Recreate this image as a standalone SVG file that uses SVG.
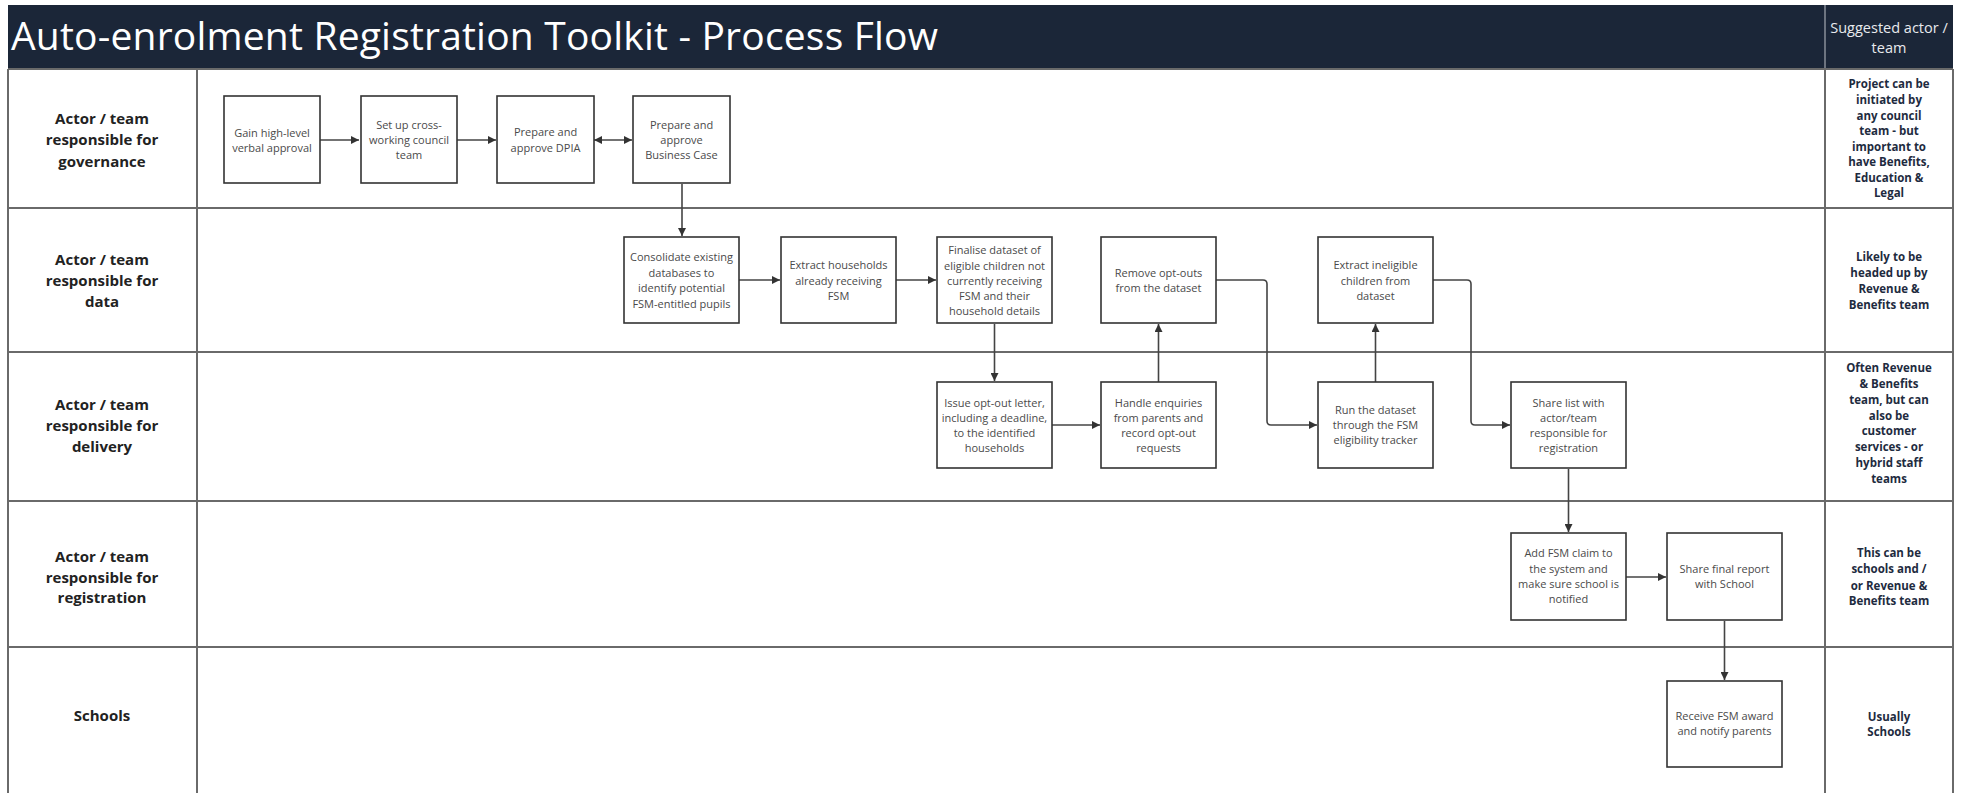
<svg xmlns="http://www.w3.org/2000/svg" width="1963" height="793" viewBox="0 0 1963 793">
<defs>
<marker id="ah" viewBox="0 0 10 10" refX="10" refY="5" markerWidth="8" markerHeight="8" markerUnits="userSpaceOnUse" orient="auto-start-reverse">
<path d="M0,0 L10,5 L0,10 z" fill="#333"/>
</marker>
<style>
.lane{stroke:#6a6a6a;stroke-width:2;fill:none}
.box{fill:#fff;stroke:#333;stroke-width:1.6}
.bt{font-family:"Open Sans","Liberation Sans",sans-serif;font-size:11px;fill:#4a4a4a;text-anchor:middle}
.lt{font-family:"Open Sans","Liberation Sans",sans-serif;font-size:15px;font-weight:700;fill:#222;text-anchor:middle}
.rt{font-family:"Open Sans","Liberation Sans",sans-serif;font-size:11.5px;font-weight:700;fill:#1e2b40;text-anchor:middle}
.con{fill:none;stroke:#444;stroke-width:1.6}
</style>
</defs>
<rect width="1963" height="793" fill="#fff"/>
<g id="header">
<rect x="8" y="5" width="1945" height="63" fill="#1b2638"/>
<line x1="1825" y1="5" x2="1825" y2="68" stroke="#8a8f98" stroke-width="1.5"/>
<text x="11" y="50" font-family="'Open Sans','Liberation Sans',sans-serif" font-size="39" fill="#fff" textLength="927" lengthAdjust="spacing">Auto-enrolment Registration Toolkit - Process Flow</text>
<text x="1889" y="33" font-family="'Open Sans','Liberation Sans',sans-serif" font-size="14.5" fill="#e8eaee" text-anchor="middle">Suggested actor /</text>
<text x="1889" y="53" font-family="'Open Sans','Liberation Sans',sans-serif" font-size="14.5" fill="#e8eaee" text-anchor="middle">team</text>
</g>
<g id="lanes">
<line class="lane" x1="8" y1="69" x2="1953" y2="69"/>
<line class="lane" x1="8" y1="208" x2="1953" y2="208"/>
<line class="lane" x1="8" y1="352" x2="1953" y2="352"/>
<line class="lane" x1="8" y1="501" x2="1953" y2="501"/>
<line class="lane" x1="8" y1="647" x2="1953" y2="647"/>
<line class="lane" x1="8" y1="69" x2="8" y2="793"/>
<line class="lane" x1="197" y1="69" x2="197" y2="793"/>
<line class="lane" x1="1825" y1="69" x2="1825" y2="793"/>
<line class="lane" x1="1953" y1="69" x2="1953" y2="793"/>
</g>
<g id="lane-labels">
<text class="lt" x="102" y="124">Actor / team</text>
<text class="lt" x="102" y="145">responsible for</text>
<text class="lt" x="102" y="167">governance</text>
<text class="lt" x="102" y="265">Actor / team</text>
<text class="lt" x="102" y="286">responsible for</text>
<text class="lt" x="102" y="307">data</text>
<text class="lt" x="102" y="410">Actor / team</text>
<text class="lt" x="102" y="431">responsible for</text>
<text class="lt" x="102" y="452">delivery</text>
<text class="lt" x="102" y="562">Actor / team</text>
<text class="lt" x="102" y="583">responsible for</text>
<text class="lt" x="102" y="603">registration</text>
<text class="lt" x="102" y="721">Schools</text>
</g>
<g id="actor-notes">
<text class="rt" x="1889" y="88">Project can be</text>
<text class="rt" x="1889" y="104">initiated by</text>
<text class="rt" x="1889" y="120">any council</text>
<text class="rt" x="1889" y="135">team - but</text>
<text class="rt" x="1889" y="151">important to</text>
<text class="rt" x="1889" y="166">have Benefits,</text>
<text class="rt" x="1889" y="182">Education &amp;</text>
<text class="rt" x="1889" y="197">Legal</text>
<text class="rt" x="1889" y="261">Likely to be</text>
<text class="rt" x="1889" y="277">headed up by</text>
<text class="rt" x="1889" y="293">Revenue &amp;</text>
<text class="rt" x="1889" y="309">Benefits team</text>
<text class="rt" x="1889" y="372">Often Revenue</text>
<text class="rt" x="1889" y="388">&amp; Benefits</text>
<text class="rt" x="1889" y="404">team, but can</text>
<text class="rt" x="1889" y="420">also be</text>
<text class="rt" x="1889" y="435">customer</text>
<text class="rt" x="1889" y="451">services - or</text>
<text class="rt" x="1889" y="467">hybrid staff</text>
<text class="rt" x="1889" y="483">teams</text>
<text class="rt" x="1889" y="557">This can be</text>
<text class="rt" x="1889" y="573">schools and /</text>
<text class="rt" x="1889" y="590">or Revenue &amp;</text>
<text class="rt" x="1889" y="605">Benefits team</text>
<text class="rt" x="1889" y="721">Usually</text>
<text class="rt" x="1889" y="736">Schools</text>
</g>
<g id="connectors">
<line class="con" x1="320" y1="140" x2="359" y2="140" marker-end="url(#ah)"/>
<line class="con" x1="457" y1="140" x2="496" y2="140" marker-end="url(#ah)"/>
<line class="con" x1="594" y1="140" x2="632" y2="140" marker-start="url(#ah)" marker-end="url(#ah)"/>
<line class="con" x1="682" y1="184" x2="682" y2="236" marker-end="url(#ah)"/>
<line class="con" x1="739" y1="280" x2="780" y2="280" marker-end="url(#ah)"/>
<line class="con" x1="896" y1="280" x2="936" y2="280" marker-end="url(#ah)"/>
<line class="con" x1="994.5" y1="324" x2="994.5" y2="381" marker-end="url(#ah)"/>
<line class="con" x1="1052" y1="425" x2="1100" y2="425" marker-end="url(#ah)"/>
<line class="con" x1="1158.5" y1="382" x2="1158.5" y2="324" marker-end="url(#ah)"/>
<path class="con" d="M1216,280 H1263 Q1267,280 1267,284 V421 Q1267,425 1271,425 H1317" marker-end="url(#ah)"/>
<line class="con" x1="1375.5" y1="382" x2="1375.5" y2="324" marker-end="url(#ah)"/>
<path class="con" d="M1433,280 H1467 Q1471,280 1471,284 V421 Q1471,425 1475,425 H1510" marker-end="url(#ah)"/>
<line class="con" x1="1568.5" y1="469" x2="1568.5" y2="532" marker-end="url(#ah)"/>
<line class="con" x1="1626" y1="577" x2="1666" y2="577" marker-end="url(#ah)"/>
<line class="con" x1="1724.5" y1="621" x2="1724.5" y2="680" marker-end="url(#ah)"/>
</g>
<g id="n1"><rect class="box" x="224" y="96" width="96" height="87"/>
<text class="bt" x="272" y="137">Gain high-level</text><text class="bt" x="272" y="152">verbal approval</text></g>
<g id="n2"><rect class="box" x="361" y="96" width="96" height="87"/>
<text class="bt" x="409" y="129">Set up cross-</text><text class="bt" x="409" y="144">working council</text><text class="bt" x="409" y="159">team</text></g>
<g id="n3"><rect class="box" x="497" y="96" width="97" height="87"/>
<text class="bt" x="545.5" y="136">Prepare and</text><text class="bt" x="545.5" y="152">approve DPIA</text></g>
<g id="n4"><rect class="box" x="633" y="96" width="97" height="87"/>
<text class="bt" x="681.5" y="129">Prepare and</text><text class="bt" x="681.5" y="144">approve</text><text class="bt" x="681.5" y="159">Business Case</text></g>
<g id="n5"><rect class="box" x="624" y="237" width="115" height="86"/>
<text class="bt" x="681.5" y="261">Consolidate existing</text><text class="bt" x="681.5" y="276.5">databases to</text><text class="bt" x="681.5" y="292">identify potential</text><text class="bt" x="681.5" y="307.5">FSM-entitled pupils</text></g>
<g id="n6"><rect class="box" x="781" y="237" width="115" height="86"/>
<text class="bt" x="838.5" y="269">Extract households</text><text class="bt" x="838.5" y="284.5">already receiving</text><text class="bt" x="838.5" y="300">FSM</text></g>
<g id="n7"><rect class="box" x="937" y="237" width="115" height="86"/>
<text class="bt" x="994.5" y="254">Finalise dataset of</text><text class="bt" x="994.5" y="269.5">eligible children not</text><text class="bt" x="994.5" y="285">currently receiving</text><text class="bt" x="994.5" y="300">FSM and their</text><text class="bt" x="994.5" y="315">household details</text></g>
<g id="n8"><rect class="box" x="1101" y="237" width="115" height="86"/>
<text class="bt" x="1158.5" y="277">Remove opt-outs</text><text class="bt" x="1158.5" y="292">from the dataset</text></g>
<g id="n9"><rect class="box" x="937" y="382" width="115" height="86"/>
<text class="bt" x="994.5" y="407">Issue opt-out letter,</text><text class="bt" x="994.5" y="421.5">including a deadline,</text><text class="bt" x="994.5" y="437">to the identified</text><text class="bt" x="994.5" y="452">households</text></g>
<g id="n10"><rect class="box" x="1101" y="382" width="115" height="86"/>
<text class="bt" x="1158.5" y="407">Handle enquiries</text><text class="bt" x="1158.5" y="421.5">from parents and</text><text class="bt" x="1158.5" y="437">record opt-out</text><text class="bt" x="1158.5" y="452">requests</text></g>
<g id="n11"><rect class="box" x="1318" y="237" width="115" height="86"/>
<text class="bt" x="1375.5" y="269">Extract ineligible</text><text class="bt" x="1375.5" y="284.5">children from</text><text class="bt" x="1375.5" y="300">dataset</text></g>
<g id="n12"><rect class="box" x="1318" y="382" width="115" height="86"/>
<text class="bt" x="1375.5" y="414">Run the dataset</text><text class="bt" x="1375.5" y="429">through the FSM</text><text class="bt" x="1375.5" y="444">eligibility tracker</text></g>
<g id="n13"><rect class="box" x="1511" y="382" width="115" height="86"/>
<text class="bt" x="1568.5" y="407">Share list with</text><text class="bt" x="1568.5" y="421.5">actor/team</text><text class="bt" x="1568.5" y="437">responsible for</text><text class="bt" x="1568.5" y="452">registration</text></g>
<g id="n14"><rect class="box" x="1511" y="533" width="115" height="87"/>
<text class="bt" x="1568.5" y="557">Add FSM claim to</text><text class="bt" x="1568.5" y="573">the system and</text><text class="bt" x="1568.5" y="588">make sure school is</text><text class="bt" x="1568.5" y="603">notified</text></g>
<g id="n15"><rect class="box" x="1667" y="533" width="115" height="87"/>
<text class="bt" x="1724.5" y="573">Share final report</text><text class="bt" x="1724.5" y="588">with School</text></g>
<g id="n16"><rect class="box" x="1667" y="681" width="115" height="86"/>
<text class="bt" x="1724.5" y="720">Receive FSM award</text><text class="bt" x="1724.5" y="735">and notify parents</text></g>
</svg>
